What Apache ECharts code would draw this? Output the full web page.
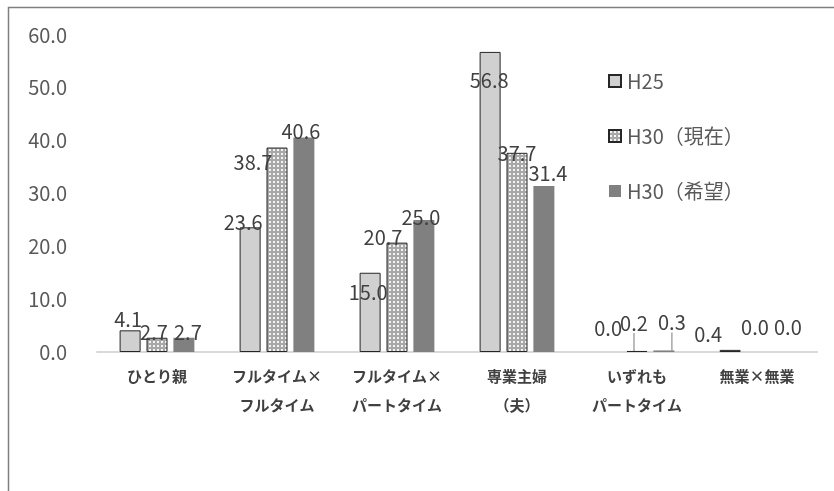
<!DOCTYPE html>
<html>
<head>
<meta charset="utf-8">
<script src="https://cdn.jsdelivr.net/npm/echarts@6/dist/echarts.min.js"></script>
<style>
  html, body { margin: 0; padding: 0; background: #fff; }
  #chart { width: 834px; height: 491px; }
</style>
</head>
<body>
<div id="chart"></div>
<script>
// 世帯の就業形態（%）
const categories = ['ひとり親', 'フルタイム×\nフルタイム', 'フルタイム×\nパートタイム', '専業主婦\n（夫）', 'いずれも\nパートタイム', '無業×無業'];
const seriesNames = ['H25', 'H30（現在）', 'H30（希望）'];
const valuesH25 = [4.1, 23.6, 15.0, 56.8, 0.0, 0.4];
const valuesH30Now = [2.7, 38.7, 20.7, 37.7, 0.2, 0.0];
const valuesH30Hope = [2.7, 40.6, 25.0, 31.4, 0.3, 0.0];
const yTicks = { min: 0, max: 60, interval: 10 };

// 値ラベルの位置調整 [dx, dy]（系列ごと）
const labelNudge = [
  [[-2, 4], [-7, 10], [-2, 35], [-1, 43], [-2, -9], [-22, 0]],
  [[-3, 10], [-24, 30], [-14, 10], [0, 16], [-3, -13], [-2, -10]],
  [[4, 10], [-3, 9], [-3, 12], [4, 2], [8, -13], [4, -10]]
];
// 引き出し線を付けるラベル
const leaderLines = [[], [4], [4]];

// 網掛け（ドット）パターン
function makeDotPattern() {
  const c = document.createElement('canvas');
  c.width = 4; c.height = 4;
  const g = c.getContext('2d');
  g.fillStyle = '#a8a8a8';
  g.fillRect(0, 0, 4, 4);
  g.fillStyle = '#f4f4f4';
  g.fillRect(1, 1, 2, 2);
  return c;
}
const dotPattern = makeDotPattern();

const FONT = '"Noto Sans CJK JP", "Noto Sans", sans-serif';

function buildData(values, si) {
  return values.map((v, i) => {
    const item = { value: v };
    if (v === 0) {
      // 値 0 の棒は枠線を描かない
      item.itemStyle = { borderWidth: 0 };
    }
    if (leaderLines[si].includes(i)) {
      item.labelLine = { show: true, lineStyle: { color: '#a6a6a6', width: 1.5 } };
    }
    return item;
  });
}

const baseLabel = {
  show: true,
  position: 'top',
  distance: 5,
  color: '#404040',
  fontSize: 20,
  fontFamily: FONT,
  formatter: p => Number(p.value).toFixed(1)
};

const styles = [
  { color: '#d0d0d0', borderColor: '#262626', borderWidth: 1 },
  { color: { image: dotPattern, repeat: 'repeat' }, borderColor: '#262626', borderWidth: 1 },
  { color: '#808080', borderWidth: 0 }
];
const allValues = [valuesH25, valuesH30Now, valuesH30Hope];

const chart = echarts.init(document.getElementById('chart'), null, { renderer: 'canvas' });

chart.setOption({
  animation: false,
  backgroundColor: '#ffffff',
  textStyle: { fontFamily: FONT },
  graphic: [{
    type: 'rect',
    shape: { x: 8.5, y: 7.5, width: 900, height: 600 },
    style: { fill: 'none', stroke: '#7f7f7f', lineWidth: 1.5 },
    silent: true,
    z: -10
  }],
  grid: { left: 97, right: 17, top: 35, bottom: 139, containLabel: false },
  legend: {
    orient: 'vertical',
    left: 603,
    top: 66,
    icon: 'rect',
    itemWidth: 12,
    itemHeight: 12,
    itemGap: 35,
    data: seriesNames,
    textStyle: { color: '#595959', fontSize: 20, fontFamily: FONT, padding: [0, 0, 0, 1] }
  },
  xAxis: {
    type: 'category',
    data: categories,
    axisLine: { lineStyle: { color: '#d9d9d9', width: 2 } },
    axisTick: { show: false },
    axisLabel: {
      color: '#404040',
      fontSize: 15,
      fontWeight: 'bold',
      fontFamily: FONT,
      lineHeight: 29,
      margin: 10,
      interval: 0
    }
  },
  yAxis: {
    type: 'value',
    min: yTicks.min,
    max: yTicks.max,
    interval: yTicks.interval,
    axisLine: { show: false },
    axisTick: { show: false },
    splitLine: { show: false },
    axisLabel: {
      color: '#595959',
      fontSize: 20,
      fontFamily: FONT,
      margin: 30,
      formatter: v => v.toFixed(1)
    }
  },
  series: seriesNames.map((name, si) => ({
    name,
    type: 'bar',
    barWidth: 21,
    barGap: '28%',
    data: buildData(allValues[si], si),
    itemStyle: styles[si],
    label: baseLabel,
    labelLine: { show: false },
    labelLayout: p => {
      const n = labelNudge[si][p.dataIndex];
      return { dx: n[0], dy: n[1] };
    }
  }))
});
</script>
</body>
</html>
